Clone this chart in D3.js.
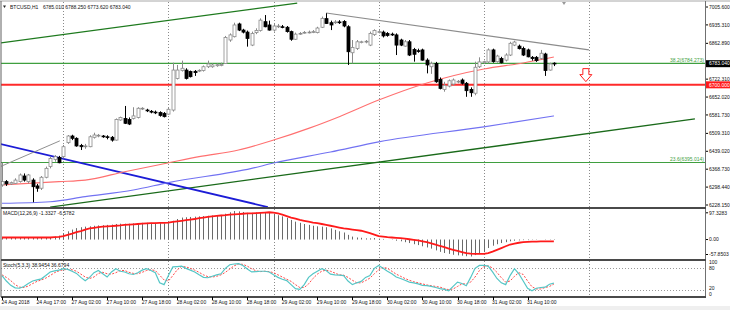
<!DOCTYPE html>
<html>
<head>
<meta charset="utf-8">
<script src="https://cdn.jsdelivr.net/npm/d3@7"></script>
<style>
  html, body { margin: 0; padding: 0; background: #fff; }
  svg { display: block; font-family: "Liberation Sans", Arial, sans-serif; }
</style>
</head>
<body>
<svg id="chart" width="730" height="310"></svg>
<script>
// BTCUSD H1 candles, bar 0 = 24 Aug 2018
const opens = [6307,6320,6311,6313,6320,6342,6320,6326,6303,6294,6337,6379,6407,6415,6418,6473,6499,6490,6462,6457,
  6457,6494,6499,6499,6496,6494,6483,6562,6568,6564,6568,6572,6606,6601,6596,6593,6591,6588,6585,6601,
  6725,6756,6758,6752,6753,6754,6756,6771,6771,6775,6776,6784,6876,6889,6939,6915,6907,6856,6905,6913,
  6948,6935,6915,6928,6928,6926,6909,6879,6899,6905,6906,6907,6905,6926,6960,6944,6944,6947,6949,6928,
  6826,6843,6868,6868,6856,6897,6907,6907,6902,6899,6896,6876,6852,6869,6839,6834,6837,6797,6771,6784,
  6721,6682,6695,6703,6712,6719,6706,6682,6667,6771,6787,6790,6837,6791,6803,6797,6817,6856,6852,6843,
  6837,6808,6808,6804,6821,6758,6785.01];
const highs = [6394,6326,6320,6333,6352,6352,6350,6333,6311,6342,6379,6418,6424,6421,6464,6503,6504,6494,6468,6468,
  6502,6512,6507,6503,6502,6499,6568,6575,6617,6572,6612,6612,6612,6606,6601,6599,6596,6593,6609,6787,
  6778,6795,6765,6756,6758,6761,6776,6795,6784,6784,6787,6892,6902,6944,6944,6920,6913,6909,6922,6961,
  6974,6952,6939,6939,6935,6931,6913,6905,6907,6911,6913,6915,6928,6968,6981,6952,6954,6954,6954,6934,
  6876,6876,6873,6876,6909,6918,6915,6913,6907,6905,6902,6881,6876,6876,6845,6842,6842,6804,6791,6790,
  6729,6712,6721,6725,6719,6725,6711,6690,6791,6808,6795,6843,6842,6818,6810,6824,6869,6873,6858,6850,
  6842,6813,6813,6837,6826,6787,6788.25];
const lows = [6300,6303,6307,6311,6316,6320,6313,6239,6280,6287,6333,6372,6398,6392,6411,6468,6483,6457,6444,6449,
  6455,6489,6494,6492,6486,6477,6481,6559,6546,6542,6564,6568,6601,6593,6588,6585,6575,6572,6583,6595,
  6721,6752,6721,6729,6735,6750,6752,6766,6767,6771,6773,6782,6869,6886,6911,6902,6850,6852,6899,6909,
  6926,6913,6909,6923,6922,6905,6873,6876,6896,6901,6902,6903,6902,6923,6939,6915,6939,6939,6926,6778,
  6784,6837,6863,6863,6852,6892,6902,6886,6889,6892,6817,6852,6850,6813,6791,6826,6795,6745,6743,6708,
  6682,6673,6690,6698,6706,6701,6653,6653,6659,6766,6782,6784,6787,6787,6784,6792,6813,6852,6839,6813,
  6808,6795,6790,6800,6735,6756,6773.62];
const closes = [6320,6311,6316,6326,6346,6326,6346,6300,6294,6337,6372,6411,6418,6394,6457,6499,6490,6460,6457,6460,
  6496,6503,6502,6496,6494,6483,6564,6572,6549,6546,6578,6608,6608,6599,6593,6591,6580,6575,6604,6758,
  6758,6765,6725,6732,6748,6757,6771,6782,6778,6779,6780,6886,6896,6935,6915,6907,6882,6902,6913,6954,
  6928,6915,6931,6931,6926,6909,6879,6899,6902,6906,6907,6909,6923,6961,6941,6935,6947,6944,6931,6830,
  6847,6869,6869,6871,6902,6913,6909,6892,6894,6897,6856,6856,6869,6817,6820,6832,6797,6778,6784,6712,
  6686,6698,6716,6719,6714,6706,6677,6669,6769,6790,6791,6837,6791,6813,6787,6817,6863,6868,6842,6817,
  6810,6803,6795,6824,6756,6782,6783.04];

// moving averages, read at selected bars
const maRedBars = [0,13,19,28,38,45,54,62,70,77,86,97,110,119,126];
const maRedVals = [6307,6320,6326,6359,6394,6418,6444,6483,6529,6575,6640,6707,6762,6786,6809];
const maBlueBars = [0,11,19,30,38,57,62,75,86,110,126];
const maBlueVals = [6235,6241,6261,6287,6316,6372,6393,6436,6476,6535,6578];

// MACD(12,26,9)
const macdMain = [7,7,6,6,6,6,6,6,6,6,7,8,10,13,21,28,34,39,42,44,
  45,47,48,49,50,51,53,54,54,54,55,56,57,57,57,57,56,55,56,64,
  70,75,76,77,78,79,80,81,82,83,84,88,93,97.33,96,94,91,91,92,94,
  93,91,88,83,79,74,67,61,57,53,50,47,45,44,42,38,33,28,24,16,
  10,7,6,4,4,5,3,2,0,-1,-4,-6,-9,-12,-16,-19,-23,-27,-31,-37,
  -42,-46,-49,-52,-54,-55,-57,-57.85,-53,-49,-42,-29,-21,-16,-12,-9,-6,-4,-3,-2,
  -2,-1,-1,0,-1,-1,-1.33];
const macdSignal = [7,7,7,7,7,7,7,7,7,7,7,7,8,9,12,16,20,25,29,34,
  38,40,42,44,45,46,47,48,50,51,52,53,54,55,56,56,57,57,58,60,
  62,64,66,68,70,73,75,77,79,81,82,83,85,86,87,88,89,89,90,91,
  92,93,92,89,85,80,75,71,67,64,61,58,56,53,50,47,44,41,38,36,
  34,32,30,26,22,17,12,10,8,7,6,5,3,1,-1,-3,-6,-9,-13,-17,
  -22,-26,-31,-35,-39,-43,-46,-48,-49,-49,-49,-46,-41,-35,-29,-23,-17,-14,-11,-9,
  -8,-7,-7,-6,-6,-6.5,-6.58];

// Stochastic(5,3,3)
const stochK = [60,45,33,26,25,30,38,45,48,51,60,70,73,75,79,77,72,66,55,46,
  55,68,74,65,56,70,79,72,70,65,63,68,75,79,74,68,40,35,60,84,
  85,86,80,75,70,62,55,54,58,62,65,80,90,92,93,88,78,70,71,72,
  72,70,62,55,50,46,35,24,22,35,55,65,72,79,74,64,62,61,60,45,
  35,40,44,55,60,80,88,80,72,65,56,52,47,42,40,37,33,32,30,27,
  24,22,18,30,42,38,32,55,80,88,88,86,70,52,40,35,60,79,65,45,
  25,18,25,27,28,36,38.95];
const stochD = [62,55,46,35,28,27,31,38,44,48,53,60,68,73,76,77,76,72,64,56,
  52,56,66,69,65,64,68,74,74,69,66,65,69,74,76,74,61,48,45,60,
  76,85,84,80,75,69,62,57,56,58,62,69,78,87,92,91,86,79,73,71,
  72,71,68,62,56,50,44,35,27,27,37,52,64,72,75,72,67,62,61,55,
  47,40,40,46,53,65,76,83,80,72,64,58,52,47,43,40,37,34,32,30,
  28,24,21,23,30,37,37,42,56,74,85,87,81,69,54,42,45,58,68,63,
  45,29,23,23,27,30,36.68];

// time axis labels every 8 bars
const timeLabels = ["24 Aug 2018","24 Aug 17:00","27 Aug 02:00","27 Aug 10:00","27 Aug 18:00","28 Aug 02:00",
  "28 Aug 10:00","28 Aug 18:00","29 Aug 02:00","29 Aug 10:00","29 Aug 18:00","30 Aug 02:00","30 Aug 10:00",
  "30 Aug 18:00","31 Aug 02:00","31 Aug 10:00"];
const gridBars = [14,38,62,86,110,134];
const priceTicks = [7005.600,6935.310,6862.890,6722.310,6652.020,6581.730,6509.310,6439.020,6368.730,6298.440,6228.150];

// drawn objects: [bar1, price1, bar2, price2]
const upperChannel = [-0.5, 6864, 67.4, 7021];
const lowerChannel = [11, 6220, 158.2, 6566];
const blueTrend = [-0.5, 6468, 60.7, 6220];
const grayShort = [-0.5, 6378, 13.2, 6480];
const grayResistance = [74, 6982, 134, 6837];
const fibLevels = [6784.273, 6395.014];
const fibLabels = ["38.2(6784.273)", "23.6(6395.014)"];
const supportLevel = 6700;
const lastPrice = 6783.04;
const arrowAt = [133.3, 6744];

const svg = d3.select('#chart');
const plotL = 1, plotR = 705;
const fs = 5;

const x = d3.scaleLinear().domain([0, 126]).range([2, 2 + 126 * 4.38]);
const yMain = d3.scaleLinear().domain([6228.15, 7005.6]).range([205, 7]);
const yMacd = d3.scaleLinear().domain([-57.8503, 97.3283]).range([256.5, 211]);
const yStoch = d3.scaleLinear().domain([0, 100]).range([297.3, 261.1]);

svg.append('rect').attr('width', 730).attr('height', 310).attr('fill', '#fff');

// clip for main panel
const defs = svg.append('defs');
defs.append('clipPath').attr('id', 'clipMain')
  .append('rect').attr('x', plotL).attr('y', 2).attr('width', plotR - plotL).attr('height', 205);

// vertical dotted grid in each panel
const panels = [[2, 207], [209, 259], [261, 296]];
panels.forEach(([t, b]) => {
  svg.append('g').selectAll('line').data(gridBars).join('line')
    .attr('x1', d => Math.round(x(d)) + 0.5).attr('x2', d => Math.round(x(d)) + 0.5)
    .attr('y1', t).attr('y2', b)
    .attr('stroke', '#8a8a8a').attr('stroke-dasharray', '1,2');
});

const main = svg.append('g').attr('clip-path', 'url(#clipMain)');

// horizontal levels
main.selectAll('.fib').data(fibLevels).join('line')
  .attr('x1', plotL).attr('x2', plotR)
  .attr('y1', d => yMain(d)).attr('y2', d => yMain(d))
  .attr('stroke', '#3f9f3f').attr('stroke-width', 1.2);
main.append('line')
  .attr('x1', plotL).attr('x2', plotR)
  .attr('y1', yMain(supportLevel)).attr('y2', yMain(supportLevel))
  .attr('stroke', '#ff2a2a').attr('stroke-width', 2);

function seg(g, s, color, w) {
  g.append('line')
    .attr('x1', x(s[0])).attr('y1', yMain(s[1]))
    .attr('x2', x(s[2])).attr('y2', yMain(s[3]))
    .attr('stroke', color).attr('stroke-width', w);
}
seg(main, upperChannel, '#1e7a1e', 1.3);
seg(main, lowerChannel, '#1a6a1a', 1.3);
seg(main, blueTrend, '#1c1cd6', 1.8);
seg(main, grayShort, '#909090', 1);
seg(main, grayResistance, '#8c8c8c', 1.2);

// moving averages
const maLine = d3.line().x(d => x(d[0])).y(d => yMain(d[1])).curve(d3.curveMonotoneX);
main.append('path').attr('d', maLine(maBlueBars.map((b, i) => [b, maBlueVals[i]])))
  .attr('fill', 'none').attr('stroke', '#7272f2').attr('stroke-width', 1.1);
main.append('path').attr('d', maLine(maRedBars.map((b, i) => [b, maRedVals[i]])))
  .attr('fill', 'none').attr('stroke', '#ff7070').attr('stroke-width', 1.1);

// candles
const candles = d3.range(opens.length).map(i => ({
  i, o: opens[i], h: highs[i], l: lows[i], c: closes[i]
}));
const cg = main.append('g');
cg.selectAll('.wick').data(candles).join('line')
  .attr('x1', d => Math.round(x(d.i)) + 0.5).attr('x2', d => Math.round(x(d.i)) + 0.5)
  .attr('y1', d => yMain(d.h)).attr('y2', d => yMain(d.l))
  .attr('stroke', d => d.c >= d.o ? '#8a8a8a' : '#000');
cg.selectAll('.body').data(candles).join('rect')
  .attr('x', d => Math.round(x(d.i)) - 1)
  .attr('width', 3)
  .attr('y', d => yMain(Math.max(d.o, d.c)))
  .attr('height', d => Math.max(0.8, Math.abs(yMain(d.o) - yMain(d.c))))
  .attr('fill', d => d.c >= d.o ? '#fff' : '#000')
  .attr('stroke', d => d.c >= d.o ? '#8a8a8a' : '#000')
  .attr('stroke-width', 0.8);

// fib labels
svg.selectAll('.fibLabel').data(fibLevels).join('text')
  .attr('x', plotR - 1).attr('y', d => yMain(d) - 1.5)
  .attr('text-anchor', 'end').attr('font-size', fs).attr('fill', '#3f9f3f')
  .text((d, i) => fibLabels[i]);

// red down arrow
{
  const ax = x(arrowAt[0]), ay = yMain(arrowAt[1]);
  const p = `M${ax - 3},${ay - 5} L${ax + 3},${ay - 5} L${ax + 3},${ay + 1} L${ax + 6},${ay + 1} L${ax},${ay + 8} L${ax - 6},${ay + 1} L${ax - 3},${ay + 1} Z`;
  svg.append('path').attr('d', p).attr('fill', '#fff').attr('stroke', '#ff2020').attr('stroke-width', 1);
}

// MACD panel
svg.append('g').selectAll('line').data(macdMain).join('line')
  .attr('x1', (d, i) => Math.round(x(i)) + 0.5).attr('x2', (d, i) => Math.round(x(i)) + 0.5)
  .attr('y1', yMacd(0)).attr('y2', d => yMacd(d))
  .attr('stroke', '#6a6a6a');
svg.append('path')
  .attr('d', d3.line().x((d, i) => x(i)).y(d => yMacd(d))(macdSignal))
  .attr('fill', 'none').attr('stroke', '#ff1a1a').attr('stroke-width', 1.8);

// Stochastic panel
[80, 20].forEach(v => {
  svg.append('line').attr('x1', plotL).attr('x2', plotR)
    .attr('y1', Math.round(yStoch(v)) + 0.5).attr('y2', Math.round(yStoch(v)) + 0.5)
    .attr('stroke', '#9a9a9a').attr('stroke-dasharray', '1,2');
});
svg.append('path')
  .attr('d', d3.line().x((d, i) => x(i)).y(d => yStoch(d))(stochD))
  .attr('fill', 'none').attr('stroke', '#ff4a4a').attr('stroke-width', 1).attr('stroke-dasharray', '2,1.5');
svg.append('path')
  .attr('d', d3.line().x((d, i) => x(i)).y(d => yStoch(d))(stochK))
  .attr('fill', 'none').attr('stroke', '#55c6c6').attr('stroke-width', 1.2);

// frame and separators
svg.append('line').attr('x1', 0).attr('x2', 730).attr('y1', 1).attr('y2', 1).attr('stroke', '#a8a8a8');
svg.append('line').attr('x1', plotL).attr('x2', plotL).attr('y1', 1).attr('y2', 297).attr('stroke', '#606060');
svg.append('line').attr('x1', plotR + 0.5).attr('x2', plotR + 0.5).attr('y1', 1).attr('y2', 297).attr('stroke', '#707070');
[208, 260, 297].forEach(y => {
  svg.append('line').attr('x1', plotL).attr('x2', plotR + 1).attr('y1', y).attr('y2', y)
    .attr('stroke', '#4a4a4a').attr('stroke-width', 1.8);
});

// chart shift marker
svg.append('path').attr('d', 'M562,2 L566,2 L564,5 Z').attr('fill', '#999');

// price axis
const pa = svg.append('g');
pa.selectAll('line').data(priceTicks).join('line')
  .attr('x1', plotR + 1).attr('x2', plotR + 3)
  .attr('y1', d => yMain(d)).attr('y2', d => yMain(d)).attr('stroke', '#000');
pa.selectAll('text').data(priceTicks).join('text')
  .attr('x', plotR + 4).attr('y', d => yMain(d)).attr('dy', '0.35em')
  .attr('font-size', fs).attr('fill', '#111')
  .text(d => d.toFixed(3));

function priceTag(v, bg) {
  const y = yMain(v);
  svg.append('rect').attr('x', plotR + 1).attr('y', y - 3.5).attr('width', 24).attr('height', 7).attr('fill', bg);
  svg.append('text').attr('x', plotR + 4).attr('y', y).attr('dy', '0.35em')
    .attr('font-size', fs).attr('fill', '#fff').text(v.toFixed(3));
}
priceTag(lastPrice, '#000');
priceTag(supportLevel, '#ff1a1a');

// MACD axis
const macdTicks = [97.3283, 0, -57.8503];
const macdLabelY = d => Math.min(254.5, Math.max(212.8, yMacd(d)));
svg.append('g').selectAll('text').data(macdTicks).join('text')
  .attr('x', plotR + 4).attr('y', macdLabelY).attr('dy', '0.35em')
  .attr('font-size', fs).attr('fill', '#111')
  .text(d => d === 0 ? '0.00' : d.toFixed(4));
svg.append('g').selectAll('line').data(macdTicks).join('line')
  .attr('x1', plotR + 1).attr('x2', plotR + 3)
  .attr('y1', macdLabelY).attr('y2', macdLabelY)
  .attr('stroke', '#000');

// Stoch axis
const stochTicks = [100, 80, 20, 0];
const stochLabelY = [262.4, 268.3, 288.6, 294.6];
svg.append('g').selectAll('text').data(stochTicks).join('text')
  .attr('x', plotR + 4).attr('y', (d, i) => stochLabelY[i]).attr('dy', '0.35em')
  .attr('font-size', fs).attr('fill', '#111')
  .text(d => d);

// time axis
svg.append('g').selectAll('line').data(timeLabels).join('line')
  .attr('x1', (d, i) => Math.round(x(i * 8)) + 0.5).attr('x2', (d, i) => Math.round(x(i * 8)) + 0.5)
  .attr('y1', 297).attr('y2', 300).attr('stroke', '#000');
svg.append('g').selectAll('text').data(timeLabels).join('text')
  .attr('x', (d, i) => x(i * 8) - 0.5).attr('y', 302).attr('dy', '0.35em')
  .attr('font-size', fs).attr('fill', '#111')
  .text(d => d);

// bottom strip
svg.append('rect').attr('x', 0).attr('y', 306).attr('width', 730).attr('height', 4).attr('fill', '#efefef');

// headers
svg.append('path').attr('d', 'M3,5.5 L6,5.5 L4.5,8 Z').attr('fill', '#222');
svg.append('text').attr('x', 10).attr('y', 7).attr('dy', '0.35em').attr('font-size', fs).attr('fill', '#111')
  .text('BTCUSD,H1');
svg.append('text').attr('x', 43).attr('y', 7).attr('dy', '0.35em').attr('font-size', fs).attr('fill', '#111')
  .text('6785.010 6788.250 6773.620 6783.040');
svg.append('text').attr('x', 3).attr('y', 213.3).attr('dy', '0.35em').attr('font-size', fs).attr('fill', '#111')
  .text('MACD(12,26,9) -1.3327 -6.5782');
svg.append('text').attr('x', 3).attr('y', 265.6).attr('dy', '0.35em').attr('font-size', fs).attr('fill', '#111')
  .text('Stoch(5,3,3) 38.9454 36.6794');
</script>
</body>
</html>
